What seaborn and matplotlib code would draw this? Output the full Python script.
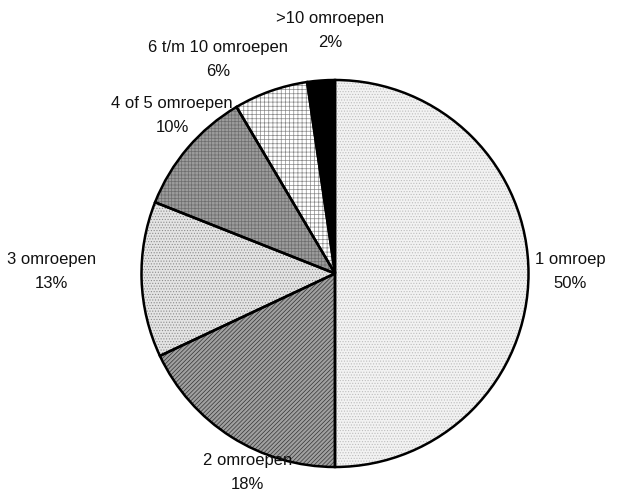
import matplotlib
matplotlib.use("Agg")
import matplotlib.pyplot as plt
import seaborn as sns

sns.set_theme(style="white")
plt.rcParams['font.family'] = ['Liberation Sans', 'DejaVu Sans']
plt.rcParams['hatch.linewidth'] = 0.5

categories = ["1 omroep", "2 omroepen", "3 omroepen", "4 of 5 omroepen",
              "6 t/m 10 omroepen", ">10 omroepen"]
values = [50, 18, 13, 10.5, 6.2, 2.3]
pct_labels = ["50%", "18%", "13%", "10%", "6%", "2%"]

faces = ["#f2f2f2", "#a0a0a0", "#e4e4e4", "#9c9c9c", "#ffffff", "#000000"]
hatches = ["......", "////////", "......", "+++++", "++++", ""]
hatch_cols = ["#bdbdbd", "#333333", "#8c8c8c", "#6e6e6e", "#8a8a8a", "#000000"]

# label positions (data coords, radius = 1)
label_xy = [(1.214, 0.008), (-0.45, -1.03), (-1.463, 0.008), (-0.842, 0.817),
            (-0.605, 1.106), (-0.026, 1.255)]

W, H = 639, 492
fig = plt.figure(figsize=(W / 100, H / 100), dpi=100)
cx, cy, r = 335, 273.5, 193.5
ax = fig.add_axes([(cx - r) / W, (H - cy - r) / H, 2 * r / W, 2 * r / H])

wedges, _ = ax.pie(values, startangle=90, counterclock=False, radius=1,
                   colors=faces, hatch=hatches,
                   wedgeprops=dict(linewidth=0))
for w, hc in zip(wedges, hatch_cols):
    w.set_edgecolor(hc)

ax.pie(values, startangle=90, counterclock=False, radius=1,
       wedgeprops=dict(facecolor="none", edgecolor="black", linewidth=1.8))

for (x, y), cat, p in zip(label_xy, categories, pct_labels):
    ax.text(x, y, f"{cat}\n{p}", ha="center", va="center", fontsize=12,
            linespacing=1.75, color="#111111", clip_on=False)

ax.set_xlim(-1, 1)
ax.set_ylim(-1, 1)
ax.set_aspect("equal")
ax.axis("off")

fig.savefig("out.png", dpi=100)
